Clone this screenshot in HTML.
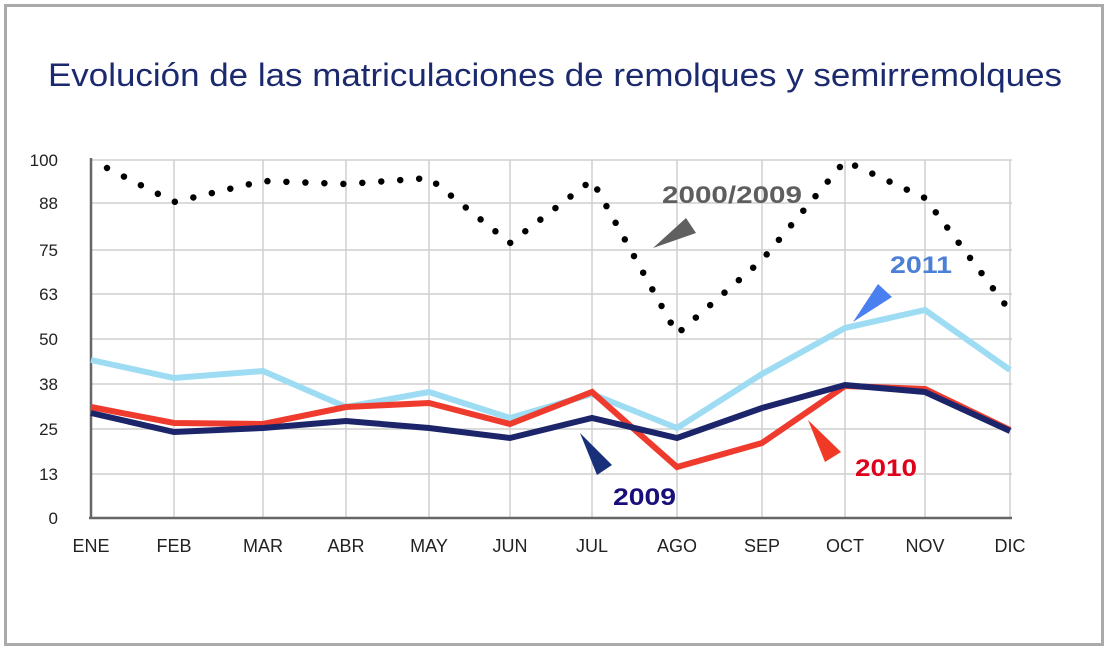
<!DOCTYPE html>
<html><head><meta charset="utf-8"><style>
html,body{margin:0;padding:0;background:#fff;}
body{width:1109px;height:651px;overflow:hidden;position:relative;font-family:"Liberation Sans",sans-serif;}
.frame{position:absolute;left:4px;top:4px;width:1094px;height:636px;border:3px solid #aaa;}
</style></head><body>
<div class="frame"></div>
<svg width="1109" height="651" style="position:absolute;left:0;top:0">
<text x="48" y="86" textLength="1014" lengthAdjust="spacingAndGlyphs" font-family="Liberation Sans, sans-serif" font-size="32" fill="#1b2a6e">Evolución de las matriculaciones de remolques y semirremolques</text>
<g stroke="#cfcfcf" stroke-width="1.5">
<line x1="91" y1="160" x2="1012" y2="160"/><line x1="91" y1="203" x2="1012" y2="203"/>
<line x1="91" y1="250" x2="1012" y2="250"/><line x1="91" y1="294" x2="1012" y2="294"/>
<line x1="91" y1="339" x2="1012" y2="339"/><line x1="91" y1="384" x2="1012" y2="384"/>
<line x1="91" y1="429" x2="1012" y2="429"/><line x1="91" y1="474" x2="1012" y2="474"/>
<line x1="174" y1="160" x2="174" y2="518"/><line x1="263" y1="160" x2="263" y2="518"/>
<line x1="346" y1="160" x2="346" y2="518"/><line x1="429" y1="160" x2="429" y2="518"/>
<line x1="510" y1="160" x2="510" y2="518"/><line x1="592" y1="160" x2="592" y2="518"/>
<line x1="677" y1="160" x2="677" y2="518"/><line x1="762" y1="160" x2="762" y2="518"/>
<line x1="845" y1="160" x2="845" y2="518"/><line x1="925" y1="160" x2="925" y2="518"/>
<line x1="1010" y1="160" x2="1010" y2="518"/>
</g>
<g stroke="#666" stroke-width="2.5"><line x1="91" y1="158" x2="91" y2="519"/><line x1="89" y1="518" x2="1012" y2="518"/></g>
<g font-size="17" fill="#222" text-anchor="end">
<text x="58" y="166">100</text><text x="58" y="209">88</text><text x="58" y="256">75</text><text x="58" y="300">63</text><text x="58" y="345">50</text><text x="58" y="390">38</text><text x="58" y="435">25</text><text x="58" y="480">13</text><text x="58" y="524">0</text>
</g>
<g font-size="18" fill="#222" text-anchor="middle">
<text x="91" y="552">ENE</text><text x="174" y="552">FEB</text><text x="263" y="552">MAR</text><text x="346" y="552">ABR</text><text x="429" y="552">MAY</text><text x="510" y="552">JUN</text><text x="592" y="552">JUL</text><text x="677" y="552">AGO</text><text x="762" y="552">SEP</text><text x="845" y="552">OCT</text><text x="925" y="552">NOV</text><text x="1010" y="552">DIC</text>
</g>
<polyline fill="none" stroke="#9ddcf3" stroke-width="6" points="91,360 174,378 263,371 346,407 429,392 510,418 592,394 677,428 762,374 845,328 925,310 1010,370"/>
<polyline fill="none" stroke="#ee3b2e" stroke-width="6" points="91,407 174,423 263,424 346,407 429,403 510,424 592,392 677,467 762,443 845,386 925,389 1010,430"/>
<polyline fill="none" stroke="#1c2569" stroke-width="6" points="91,413 174,432 263,428 346,421 429,428 510,438 592,418 677,438 762,408 845,385 925,392 1010,431"/>
<polyline fill="none" stroke="#000" stroke-width="6.5" stroke-linecap="round" stroke-dasharray="0 19" points="107,168 174,202 263,181 346,184 429,178 510,243 592,180 677,334 762,260 845,161 925,198 1010,311"/>
<polygon points="653,248 686,218 696,233" fill="#606060"/>
<text x="662" y="203" font-size="24" font-weight="bold" fill="#5e5e5e" textLength="140" lengthAdjust="spacingAndGlyphs">2000/2009</text>
<polygon points="853,322 878,284 892,297" fill="#4a7ff0"/>
<text x="890" y="273" font-size="24" font-weight="bold" fill="#4c7fd6" textLength="62" lengthAdjust="spacingAndGlyphs">2011</text>
<polygon points="808,420 825,462 841,452" fill="#f03a26"/>
<text x="855" y="476" font-size="24" font-weight="bold" fill="#e0001b" textLength="62" lengthAdjust="spacingAndGlyphs">2010</text>
<polygon points="580,433 597,475 612,465" fill="#18307a"/>
<text x="613" y="505" font-size="24" font-weight="bold" fill="#1a0e7a" textLength="63" lengthAdjust="spacingAndGlyphs">2009</text>
</svg>
</body></html>
